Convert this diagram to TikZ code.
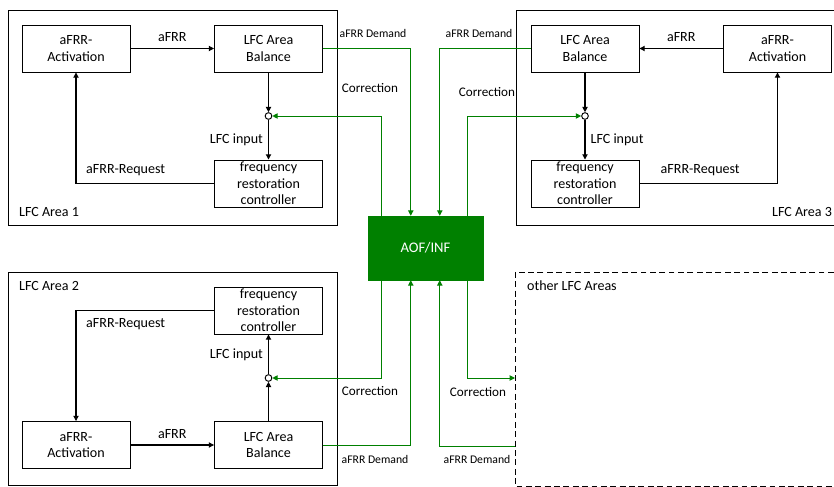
\documentclass[tikz,border=0pt]{standalone}
\usepackage{fontspec}
\setmainfont{Carlito}
\usepackage{tikz}
\usetikzlibrary{positioning, calc}
\usetikzlibrary{arrows.meta}

\definecolor{aofgreen}{RGB}{0,128,0}

\tikzset{
    blk/.style={draw, line width=0.8pt, minimum width=3.24cm, minimum height=1.41cm, inner sep=0pt, align=center, font=\fontsize{12}{14}\selectfont},
    junc/.style={circle, draw, fill=white, line width=0.8pt, minimum size=0.2cm, inner sep=0pt},
    arr/.style={line width=0.9pt, -{Triangle[length=4.5pt,width=4.5pt]}},
    gline/.style={aofgreen, line width=0.8pt, -{Triangle[length=4.5pt,width=4.5pt]}},
    lbl/.style={font=\fontsize{12}{13}\selectfont},
    corr/.style={font=\fontsize{11.2}{12}\selectfont},
    dem/.style={font=\fontsize{10}{11}\selectfont},
    area/.style={line width=0.8pt},
}

\begin{document}
\begin{tikzpicture}[x=0.03cm, y=-0.03cm]
    \useasboundingbox (0,0) rectangle (834,487);

    % area frames
    \draw[area] (8,10) rectangle (337,225);
    \draw[area] (516,10) rectangle (840,225);
    \draw[area] (8,272) rectangle (337,485);
    \draw[area, dashed, dash pattern=on 5pt off 3pt] (515,272) rectangle (840,486);
    \node[lbl, anchor=west] (name1) at (15,212) {LFC Area 1};
    \node[lbl] (name3) at (802,212) {LFC Area 3};
    \node[lbl, anchor=west] (name2) at (15,286) {LFC Area 2};
    \node[lbl, anchor=west] (nameo) at (523,286) {other LFC Areas};

    % LFC Area 1
    \node[blk] (act1) at (76,48.5) {aFRR-\\Activation};
    \node[blk] (bal1) at (268.5,48.5) {LFC Area\\Balance};
    \node[blk] (frc1) at (268.5,183.5) {frequency\\restoration\\controller};
    \node[junc] (j1) at (268.5,116) {};
    \draw[arr] (act1) -- node[lbl, above=2pt] {aFRR} (bal1);
    \draw[arr] (bal1) -- (j1);
    \draw[arr] (j1) -- node[lbl, left=1pt] {LFC input} (frc1);
    \draw[arr] (frc1.west) -| node[lbl, pos=0.32, above=3pt] {aFRR-Request} (act1.south);

    % LFC Area 3
    \node[blk] (bal3) at (585,48.5) {LFC Area\\Balance};
    \node[blk] (act3) at (777.5,48.5) {aFRR-\\Activation};
    \node[blk] (frc3) at (585,183.5) {frequency\\restoration\\controller};
    \node[junc] (j3) at (585,116) {};
    \draw[arr] (act3) -- node[lbl, above=2pt] {aFRR} (bal3);
    \draw[arr] (bal3) -- (j3);
    \draw[arr] (j3) -- node[lbl, right=1pt] {LFC input} (frc3);
    \draw[arr] (frc3.east) -| node[lbl, pos=0.22, above=3pt] {aFRR-Request} (act3.south);

    % LFC Area 2
    \node[blk] (frc2) at (268.5,310.5) {frequency\\restoration\\controller};
    \node[blk] (bal2) at (268.5,445) {LFC Area\\Balance};
    \node[blk] (act2) at (76,445) {aFRR-\\Activation};
    \node[junc] (j2) at (268.5,378) {};
    \draw[arr] (act2) -- node[lbl, above=2pt] {aFRR} (bal2);
    \draw[arr] (bal2) -- (j2);
    \draw[arr] (j2) -- node[lbl, left=1pt] {LFC input} (frc2);
    \draw[arr] (frc2.west) -| node[lbl, pos=0.32, below=3pt] {aFRR-Request} (act2.north);

    % AOF/INF
    \node[fill=aofgreen, draw=aofgreen, minimum width=3.45cm, minimum height=1.92cm, text=white, font=\fontsize{12.5}{14}\selectfont] (aof) at (425.5,248) {AOF/INF};
    \coordinate (oin) at (515,378);
    \coordinate (oout) at (515,446);

    \draw[gline] (bal1.east) -| ($(aof.north west)+(43,0)$);
    \draw[gline] ($(aof.north west)+(14,0)$) |- (j1);
    \draw[gline] (bal3.west) -| ($(aof.north west)+(72,0)$);
    \draw[gline] ($(aof.north west)+(100,0)$) |- (j3);
    \draw[gline] (bal2.east) -| ($(aof.south west)+(43,0)$);
    \draw[gline] ($(aof.south west)+(14,0)$) |- (j2);
    \draw[gline] (oout) -| ($(aof.south west)+(72,0)$);
    \draw[gline] ($(aof.south west)+(100,0)$) |- (oin);

    \node[dem] (dem1) at (373,33) {aFRR Demand};
    \node[dem] (dem3) at (479,33) {aFRR Demand};
    \node[dem] (dem2) at (375,459) {aFRR Demand};
    \node[dem] (demo) at (477,459) {aFRR Demand};
    \node[corr] (cor1) at (370,88) {Correction};
    \node[corr] (cor3) at (487,92) {Correction};
    \node[corr] (cor2) at (370,391) {Correction};
    \node[corr] (coro) at (478,392) {Correction};
\end{tikzpicture}
\end{document}
